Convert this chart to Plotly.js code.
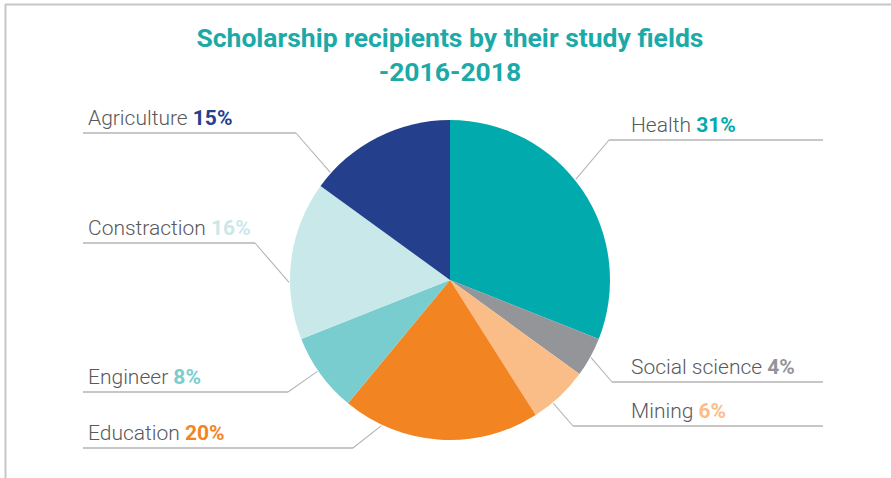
<!DOCTYPE html>
<html><head><meta charset="utf-8">
<script src="https://cdn.plot.ly/plotly-3.0.1.min.js"></script>
<style>html,body{margin:0;padding:0;background:#fff}#chart{width:891px;height:478px}</style>
</head><body><div id="chart"></div>
<script>
// ---- data ----
const fields = ["Health", "Social science", "Mining", "Education", "Engineer", "Constraction", "Agriculture"];
const shares = [31, 4, 6, 20, 8, 16, 15];
const colors = ["#00AAAD", "#939598", "#FBBD88", "#F28522", "#79CDCF", "#C9E8EA", "#243F8C"];
const titleText = "Scholarship recipients by their study fields<br>-2016-2018";

// ---- label layout (pixels) ----
const W = 891, H = 478;
const cx = 450, cy = 280, R = 160;
const labelSide  = ["right", "right", "right", "left", "left", "left", "left"];
const elbowX     = [609, 612, 573, 353, 288, 255, 296];
const elbowY     = [140, 382, 426, 448, 392, 243, 133];
const anchorFrac = [0.46, 0.5, 0.65, 0.8, 0.55, 0.36, 0.11];
const leftEdge = 83, rightEdge = 823, leftText = 87, rightText = 630;

const px = x => x / W;
const py = y => 1 - y / H;

const total = shares.reduce((a, b) => a + b, 0);
const shapes = [
  {type: "line", xref: "paper", yref: "paper", x0: px(5), x1: px(W), y0: py(4.5), y1: py(4.5), line: {color: "#c6c6c6", width: 2}},
  {type: "line", xref: "paper", yref: "paper", x0: px(5.5), x1: px(5.5), y0: py(4), y1: py(H), line: {color: "#c6c6c6", width: 2}}
];
const annotations = [];
let cum = 0;
shares.forEach((v, i) => {
  const ang = (cum + anchorFrac[i] * v) / total * 2 * Math.PI;
  cum += v;
  const ex = cx + (R + 1) * Math.sin(ang);
  const ey = cy - (R + 1) * Math.cos(ang);
  const lineColor = "#b4b4b4";
  const hx0 = labelSide[i] === "left" ? leftEdge : elbowX[i];
  const hx1 = labelSide[i] === "left" ? elbowX[i] : rightEdge;
  shapes.push({type: "line", xref: "paper", yref: "paper", x0: px(hx0), x1: px(hx1), y0: py(elbowY[i]), y1: py(elbowY[i]), line: {color: lineColor, width: 1.3}});
  shapes.push({type: "line", xref: "paper", yref: "paper", x0: px(elbowX[i]), x1: px(ex), y0: py(elbowY[i]), y1: py(ey), line: {color: lineColor, width: 1.1}});
  annotations.push({
    xref: "paper", yref: "paper",
    x: px(labelSide[i] === "left" ? leftText : rightText),
    y: py(elbowY[i] - 2),
    xanchor: "left", yanchor: "bottom", showarrow: false, borderpad: 0,
    text: fields[i] + " <b><span style=\"color:" + colors[i] + "\">" + v + "%</span></b>",
    font: {family: "Roboto", size: 21, color: "#58595b", weight: 300}
  });
});

const trace = {
  type: "pie",
  labels: fields,
  values: shares,
  sort: false,
  direction: "clockwise",
  rotation: 0,
  marker: {colors: colors, line: {width: 0}},
  textinfo: "none",
  hoverinfo: "label+percent",
  domain: {x: [px(cx - R), px(cx + R)], y: [py(cy + R), py(cy - R)]},
  showlegend: false
};

const layout = {
  width: W, height: H,
  margin: {l: 0, r: 0, t: 0, b: 0},
  paper_bgcolor: "#fff",
  title: {
    text: titleText,
    x: 0.505, xanchor: "center",
    y: 1 - 47 / H, yref: "container", yanchor: "top",
    font: {family: "Roboto", size: 26.5, color: "#1BAAA8", weight: 700}
  },
  shapes: shapes,
  annotations: annotations
};

Plotly.newPlot("chart", [trace], layout, {displayModeBar: false, staticPlot: true});
</script>
</body></html>
